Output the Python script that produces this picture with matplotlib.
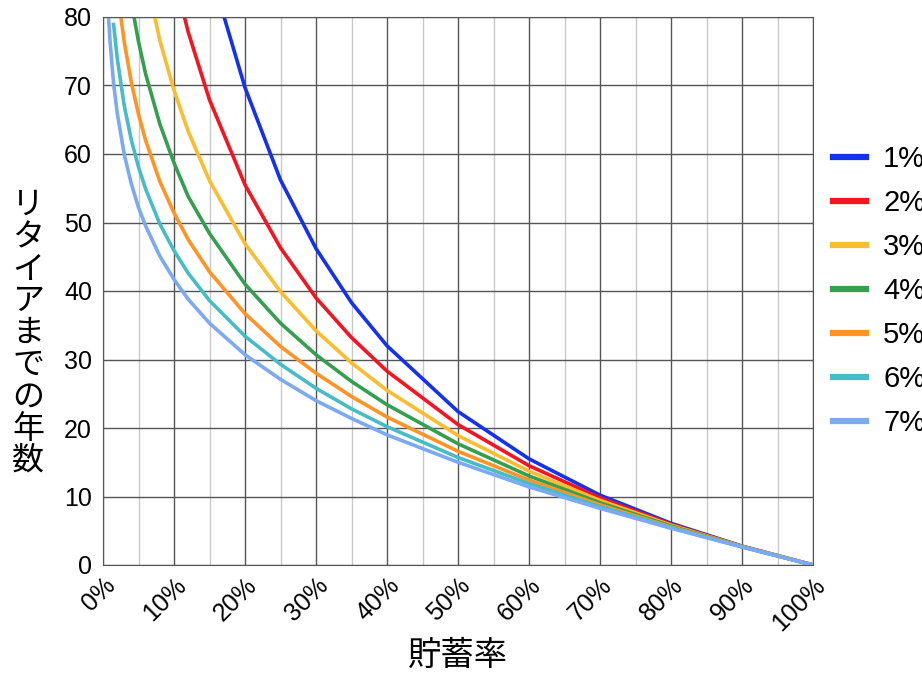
import matplotlib
matplotlib.use("Agg")
import matplotlib.pyplot as plt
from matplotlib.ticker import MultipleLocator, FuncFormatter

JP = "Noto Sans CJK JP"
plt.rcParams["font.family"] = "Liberation Sans"

labels = ["1%", "2%", "3%", "4%", "5%", "6%", "7%"]
colors = ["#1430f0", "#f41520", "#fbbc2d", "#34a04f", "#ff9425", "#46bdc6", "#7baaf2"]

x1 = [0.15, 0.17, 0.2, 0.25, 0.3, 0.35, 0.4, 0.5, 0.6, 0.7, 0.8, 0.9, 1.0]
y1 = [88.7, 80.2, 69.7, 56.2, 46.2, 38.3, 32.0, 22.4, 15.5, 10.2, 6.09, 2.75, 0]
x2 = [0.1, 0.12, 0.15, 0.2, 0.25, 0.3, 0.35, 0.4, 0.5, 0.6, 0.7, 0.8, 0.9, 1.0]
y2 = [86.1, 77.8, 67.9, 55.5, 46.3, 39.0, 33.2, 28.3, 20.5, 14.5, 9.81, 5.95, 2.73, 0]
x3 = [0.06, 0.08, 0.1, 0.12, 0.15, 0.2, 0.25, 0.3, 0.35, 0.4, 0.5, 0.6, 0.7, 0.8, 0.9, 1.0]
y3 = [86.1, 76.6, 69.3, 63.3, 56.1, 46.9, 39.9, 34.2, 29.5, 25.5, 18.9, 13.7, 9.43, 5.82, 2.71, 0]
x4 = [0.04, 0.05, 0.06, 0.08, 0.1, 0.12, 0.15, 0.2, 0.25, 0.3, 0.35, 0.4, 0.5, 0.6, 0.7, 0.8, 0.9, 1.0]
y4 = [82.1, 76.4, 71.7, 64.4, 58.7, 53.8, 48.4, 41.0, 35.3, 30.7, 26.8, 23.4, 17.7, 13.0, 9.09, 5.69, 2.69, 0]
x5 = [0.025, 0.03, 0.04, 0.05, 0.06, 0.08, 0.1, 0.12, 0.15, 0.2, 0.25, 0.3, 0.35, 0.4, 0.5, 0.6, 0.7, 0.8, 0.9, 1.0]
y5 = [80.1, 76.3, 70.4, 65.8, 62.0, 56.0, 51.4, 47.5, 42.8, 36.7, 31.9, 28.0, 24.6, 21.6, 16.6, 12.4, 8.79, 5.57, 2.67, 0]
x6 = [0.015, 0.02, 0.03, 0.04, 0.05, 0.06, 0.08, 0.1, 0.12, 0.15, 0.2, 0.25, 0.3, 0.35, 0.4, 0.5, 0.6, 0.7, 0.8, 0.9, 1.0]
y6 = [78.9, 74.0, 67.0, 62.0, 58.1, 54.9, 49.8, 45.9, 42.6, 38.6, 33.4, 29.3, 25.8, 22.8, 20.2, 15.7, 11.9, 8.52, 5.47, 2.65, 0]
x7 = [0.008, 0.01, 0.015, 0.02, 0.03, 0.04, 0.05, 0.06, 0.08, 0.1, 0.12, 0.15, 0.2, 0.25, 0.3, 0.35, 0.4, 0.5, 0.6, 0.7, 0.8, 0.9, 1.0]
y7 = [79.6, 76.3, 70.2, 66.0, 59.9, 55.6, 52.2, 49.5, 45.1, 41.7, 38.8, 35.3, 30.7, 27.1, 24.0, 21.4, 19.0, 15.0, 11.4, 8.27, 5.36, 2.63, 0]

xs = [x1, x2, x3, x4, x5, x6, x7]
ys = [y1, y2, y3, y4, y5, y6, y7]

fig = plt.figure(figsize=(9.22, 6.9), dpi=100)
ax = fig.add_axes([103/922, 1-565/690, 710/922, 548/690])

for x, y, c, l in zip(xs, ys, colors, labels):
    ax.plot(x, y, color=c, lw=2.6, label=l, solid_joinstyle="round")

ax.set_xlim(0, 1)
ax.set_ylim(0, 80)
ax.xaxis.set_major_locator(MultipleLocator(0.1))
ax.xaxis.set_minor_locator(MultipleLocator(0.05))
ax.yaxis.set_major_locator(MultipleLocator(10))
ax.xaxis.set_major_formatter(FuncFormatter(lambda v, p: f"{round(v*100)}%"))
ax.grid(which="major", color="#555555", lw=1.0)
ax.grid(which="minor", axis="x", color="#c8c8c8", lw=1.0)
ax.set_axisbelow(True)
for s in ax.spines.values():
    s.set_color("#555555")
ax.tick_params(which="both", length=0, labelsize=18)
ax.tick_params(axis="y", pad=8)
ax.tick_params(axis="x", pad=6)
for t in ax.get_xticklabels():
    t.set_rotation(45)
    t.set_ha("right")
    t.set_rotation_mode("anchor")

ax.set_xlabel("貯蓄率", fontfamily=JP, fontsize=24, labelpad=2)
fig.text(28/922, 0.5 + 12/690, "\n".join("リタイアまでの年数"), fontfamily=JP, fontsize=23,
         ha="center", va="center", linespacing=1.0)

leg = ax.legend(loc="center left", bbox_to_anchor=(1.0, 0.5), frameon=False,
                fontsize=21, handlelength=1.1, handletextpad=0.6, labelspacing=0.55,
                borderaxespad=0.3)
for h in leg.get_lines():
    h.set_linewidth(4.5)

fig.savefig("out.png", dpi=100)
